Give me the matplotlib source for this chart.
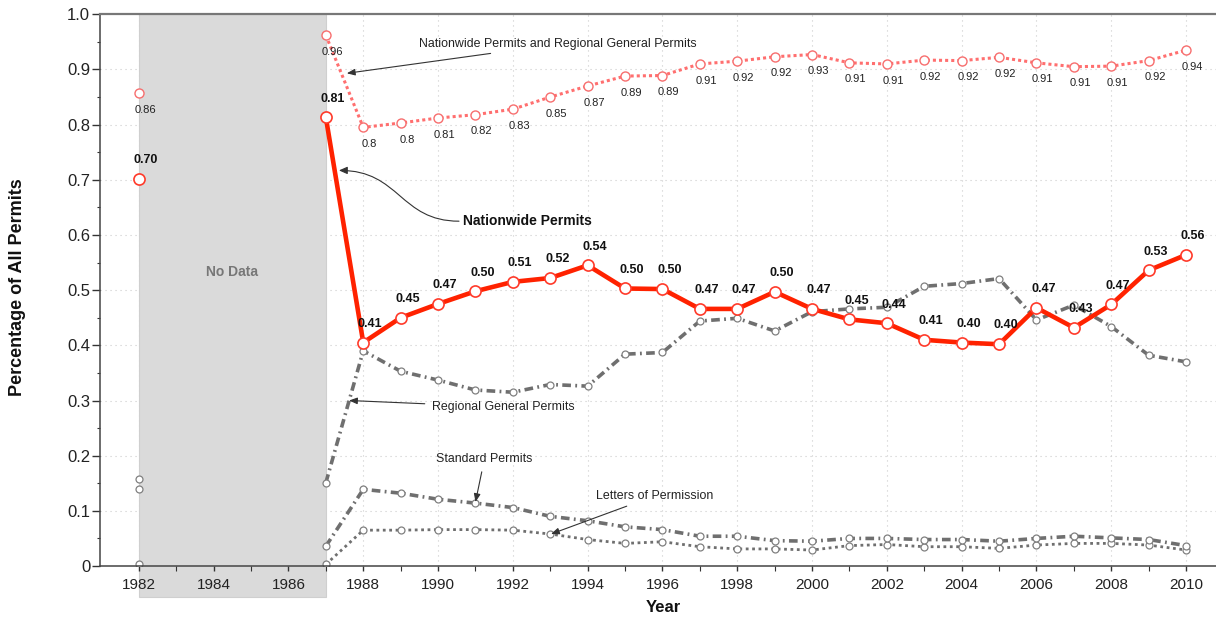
import numpy as np
import matplotlib
matplotlib.use("Agg")
import matplotlib.pyplot as plt
from matplotlib.patches import Rectangle, FancyArrowPatch
from matplotlib.path import Path

plt.rcParams["font.family"] = ["Liberation Sans", "DejaVu Sans"]

# share of all permits by type (1983-1986: no data)
years = [1982, 1987, 1988, 1989, 1990, 1991, 1992, 1993, 1994, 1995, 1996, 1997, 1998,
         1999, 2000, 2001, 2002, 2003, 2004, 2005, 2006, 2007, 2008, 2009, 2010]
nationwide = [0.702, 0.813, 0.405, 0.450, 0.475, 0.498, 0.515, 0.522, 0.545, 0.503, 0.502, 0.466,
              0.466, 0.497, 0.466, 0.447, 0.440, 0.410, 0.405, 0.402, 0.468, 0.432, 0.474, 0.536, 0.564]
nw_plus_rg = [0.857, 0.962, 0.795, 0.803, 0.812, 0.818, 0.828, 0.850, 0.870, 0.888, 0.889, 0.910,
              0.915, 0.923, 0.927, 0.912, 0.910, 0.917, 0.916, 0.922, 0.912, 0.905, 0.906, 0.916, 0.935]
regional = [0.157, 0.151, 0.390, 0.353, 0.337, 0.319, 0.315, 0.329, 0.326, 0.384, 0.387, 0.444,
            0.449, 0.426, 0.461, 0.466, 0.469, 0.507, 0.512, 0.521, 0.446, 0.473, 0.434, 0.382, 0.370]
standard = [0.140, 0.036, 0.139, 0.132, 0.121, 0.114, 0.106, 0.090, 0.082, 0.071, 0.066, 0.054,
            0.054, 0.046, 0.045, 0.050, 0.050, 0.048, 0.048, 0.045, 0.050, 0.054, 0.051, 0.048, 0.037]
letters = [0.003, 0.003, 0.065, 0.065, 0.066, 0.066, 0.065, 0.058, 0.048, 0.041, 0.044, 0.035,
           0.031, 0.031, 0.029, 0.037, 0.039, 0.035, 0.035, 0.032, 0.038, 0.041, 0.041, 0.038, 0.029]

nationwide_labels = ["0.70", "0.81", "0.41", "0.45", "0.47", "0.50", "0.51", "0.52", "0.54", "0.50",
                     "0.50", "0.47", "0.47", "0.50", "0.47", "0.45", "0.44", "0.41", "0.40", "0.40",
                     "0.47", "0.43", "0.47", "0.53", "0.56"]
nw_plus_rg_labels = ["0.86", "0.96", "0.8", "0.8", "0.81", "0.82", "0.83", "0.85", "0.87", "0.89",
                     "0.89", "0.91", "0.92", "0.92", "0.93", "0.91", "0.91", "0.92", "0.92", "0.92",
                     "0.91", "0.91", "0.91", "0.92", "0.94"]

y_ticks = [0, 0.1, 0.2, 0.3, 0.4, 0.5, 0.6, 0.7, 0.8, 0.9, 1.0]
y_tick_labels = ["0", "0.1", "0.2", "0.3", "0.4", "0.5", "0.6", "0.7", "0.8", "0.9", "1.0"]
x_ticks = list(range(1982, 2011, 2))

no_data_start, no_data_end = 1982, 1987

fig = plt.figure(figsize=(12.16, 6.18), dpi=100)
ax = fig.add_axes([0.0822, 0.0841, 0.9178, 0.8928])
ax.set_xlim(1980.96, 2010.8)
ax.set_ylim(0, 1)

# manual dotted grid so the grey band covers it but not the tick labels
for yv in y_ticks[1:-1]:
    ax.axhline(yv, color="#cccccc", lw=0.8, ls=(0, (1, 3.5)), zorder=0.3)
for xv in x_ticks:
    ax.axvline(xv, color="#cccccc", lw=0.8, ls=(0, (1, 3.5)), zorder=0.3)

band = Rectangle((no_data_start, -0.056), no_data_end - no_data_start, 1.056,
                 transform=ax.get_xaxis_transform(), clip_on=False,
                 facecolor="#dadada", edgecolor="#cfcfcf", lw=0.8, zorder=0.6)
ax.add_patch(band)
ax.text((no_data_start + no_data_end) / 2, 0.533, "No Data", ha="center", va="center",
        fontsize=10, fontweight="bold", color="#777777", zorder=1)

yrs = np.array(years)
line_part = yrs >= 1987

gray = "#6f6f6f"
gray_mk = dict(marker="o", ms=5, mfc="white", mec="#808080", mew=0.9)

# letters of permission (dotted)
ax.plot(yrs[line_part], np.array(letters)[line_part], color=gray, lw=2.0,
        dashes=(1, 1.3), zorder=2)
ax.plot(yrs, letters, ls="none", zorder=2.1, **gray_mk)

# standard permits (dash-dot)
ax.plot(yrs[line_part], np.array(standard)[line_part], color=gray, lw=2.6,
        dashes=(2.4, 1.2, 0.5, 1.2), zorder=2.2)
ax.plot(yrs, standard, ls="none", zorder=2.3, **gray_mk)

# regional general permits (dash-dot)
ax.plot(yrs[line_part], np.array(regional)[line_part], color=gray, lw=2.6,
        dashes=(2.4, 1.2, 0.5, 1.2), zorder=2.4)
ax.plot(yrs, regional, ls="none", zorder=2.5, **gray_mk)

# nationwide + regional (red dotted)
ax.plot(yrs[line_part], np.array(nw_plus_rg)[line_part], color="#ff6f6f", lw=2.2,
        dashes=(1, 1), zorder=3)
ax.plot(yrs, nw_plus_rg, ls="none", marker="o", ms=6.5, mfc="white", mec="#f76e6e",
        mew=1.0, zorder=3.1)

# nationwide permits (thick red)
ax.plot(yrs[line_part], np.array(nationwide)[line_part], color="#ff2200", lw=3.3,
        solid_capstyle="round", zorder=4)
ax.plot(yrs, nationwide, ls="none", marker="o", ms=8, mfc="white", mec="#ff3a2a",
        mew=1.2, zorder=4.1)

for x, y, s in zip(years, nationwide, nationwide_labels):
    ax.annotate(s, (x, y), xytext=(5, 13.5), textcoords="offset points", ha="center",
                va="center", fontsize=9, fontweight="bold", color="#111111", zorder=5)
for x, y, s in zip(years, nw_plus_rg, nw_plus_rg_labels):
    ax.annotate(s, (x, y), xytext=(4.5, -12), textcoords="offset points", ha="center",
                va="center", fontsize=8, color="#222222", zorder=5)

arrow = dict(arrowstyle="-|>,head_length=0.55,head_width=0.22", color="#333333", lw=0.8,
             shrinkA=3, shrinkB=0)
ax.annotate("Nationwide Permits and Regional General Permits", xy=(1987.56, 0.893),
            xytext=(1989.5, 0.946), ha="left", va="center", fontsize=8.9,
            color="#222222", arrowprops=arrow, zorder=6)
ax.annotate("Regional General Permits", xy=(1987.62, 0.300), xytext=(1989.83, 0.288),
            ha="left", va="center", fontsize=8.9, color="#222222", arrowprops=arrow, zorder=6)
ax.annotate("Standard Permits", xy=(1991.0, 0.116), xytext=(1991.24, 0.194),
            ha="center", va="center", fontsize=8.9, color="#222222", arrowprops=arrow, zorder=6)
ax.annotate("Letters of Permission", xy=(1993.02, 0.058), xytext=(1994.22, 0.127),
            ha="left", va="center", fontsize=8.9, color="#222222", arrowprops=arrow, zorder=6)

# curved S arrow for nationwide permits
ax.text(1990.66, 0.625, "Nationwide Permits", ha="left", va="center", fontsize=10,
        fontweight="bold", color="#111111", zorder=6)
s_path = Path([(1990.56, 0.625), (1988.98, 0.625), (1988.98, 0.717), (1987.35, 0.717)],
              [Path.MOVETO, Path.CURVE4, Path.CURVE4, Path.CURVE4])
ax.add_patch(FancyArrowPatch(path=s_path, arrowstyle="-|>,head_length=5,head_width=2.2",
                             color="#333333", lw=0.8, zorder=6))

ax.set_yticks(y_ticks)
ax.set_yticklabels(y_tick_labels)
ax.set_yticks(np.arange(0.05, 1.0, 0.1), minor=True)
ax.set_xticks(x_ticks)
ax.set_xticks(range(1983, 2011, 2), minor=True)
ax.tick_params(axis="both", which="both", direction="out", colors="#333333",
               labelcolor="#222222")
ax.tick_params(axis="y", which="major", length=5.5, width=1, pad=1.5, labelsize=12)
ax.tick_params(axis="y", which="minor", length=2.5, width=0.8)
ax.tick_params(axis="x", which="major", length=3.5, width=1, pad=5, labelsize=11)
ax.tick_params(axis="x", which="minor", length=3.5, width=0.8)

for side in ["left", "bottom"]:
    ax.spines[side].set_color("#444444")
    ax.spines[side].set_linewidth(1.1)
ax.spines["top"].set_color("#777777")
ax.spines["top"].set_linewidth(1.6)
ax.spines["right"].set_visible(False)

fig.text(18 / 1216, 1 - 287 / 618, "Percentage of All Permits", rotation=90, ha="center",
         va="center", fontsize=13, fontweight="bold", color="#111111")
fig.text(663 / 1216, 1 - 607 / 618, "Year", ha="center", va="center", fontsize=12,
         fontweight="bold", color="#111111")

fig.savefig("out.png", dpi=100)
